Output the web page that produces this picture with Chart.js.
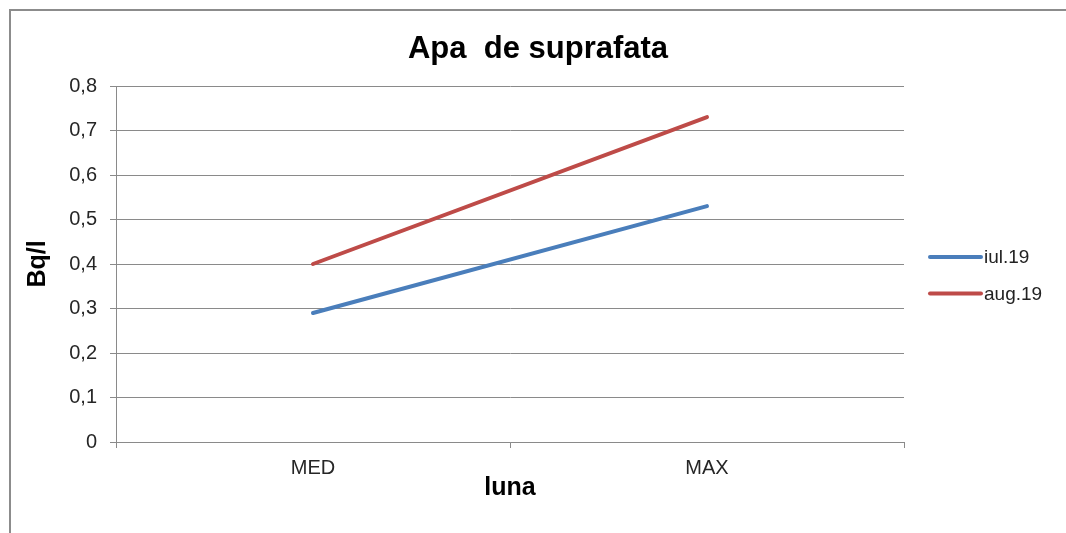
<!DOCTYPE html>
<html>
<head>
<meta charset="utf-8">
<script src="https://cdn.jsdelivr.net/npm/chart.js@4/dist/chart.umd.min.js"></script>
<style>
html,body{margin:0;padding:0;background:#fff;overflow:hidden;}
canvas{display:block;}
</style>
</head>
<body>
<canvas id="c" width="1066" height="533"></canvas>
<script>
const categories = ['MED', 'MAX'];
const seriesNames = ['iul.19', 'aug.19'];
const iul19 = [0.29, 0.53];
const aug19 = [0.40, 0.73];
const yMin = 0, yMax = 0.8, yStep = 0.1;
const chartTitle = 'Apa  de suprafata';
const xTitle = 'luna';
const yTitle = 'Bq/l';

const FONT = '"Liberation Sans", Arial, sans-serif';
const colors = ['#4A7EBB', '#BE4B48'];
const gridColor = '#8a8a8a';

const deco = {
  id: 'deco',
  beforeDraw(chart) {
    const ctx = chart.ctx;
    ctx.save();
    ctx.fillStyle = '#fff';
    ctx.fillRect(0, 0, chart.width, chart.height);
    ctx.strokeStyle = '#8c8c8c';
    ctx.lineWidth = 2;
    ctx.beginPath();
    ctx.moveTo(10, chart.height);
    ctx.lineTo(10, 10);
    ctx.lineTo(chart.width, 10);
    ctx.stroke();
    ctx.restore();
  },
  afterDraw(chart) {
    const ctx = chart.ctx;
    ctx.save();
    ctx.fillStyle = '#000';
    ctx.font = 'bold 31px ' + FONT;
    ctx.textAlign = 'center';
    ctx.textBaseline = 'alphabetic';
    ctx.fillText(chartTitle, 538, 58);
    // legend
    chart.data.datasets.forEach((ds, i) => {
      const y = 257 + i * 36.5;
      ctx.strokeStyle = ds.borderColor;
      ctx.lineWidth = 4;
      ctx.lineCap = 'round';
      ctx.beginPath();
      ctx.moveTo(930, y);
      ctx.lineTo(981, y);
      ctx.stroke();
      ctx.fillStyle = '#222';
      ctx.font = '19px ' + FONT;
      ctx.textAlign = 'left';
      ctx.textBaseline = 'middle';
      ctx.fillText(ds.label, 984, y + 1);
    });
    ctx.restore();
  }
};

new Chart(document.getElementById('c'), {
  type: 'line',
  data: {
    labels: categories,
    datasets: [
      { label: seriesNames[0], data: iul19, borderColor: colors[0], backgroundColor: colors[0], borderWidth: 4, pointRadius: 0, borderCapStyle: 'round', tension: 0 },
      { label: seriesNames[1], data: aug19, borderColor: colors[1], backgroundColor: colors[1], borderWidth: 4, pointRadius: 0, borderCapStyle: 'round', tension: 0 }
    ]
  },
  options: {
    responsive: false,
    animation: false,
    devicePixelRatio: 1,
    layout: { padding: { left: 0, right: 162, top: 86, bottom: 0 } },
    plugins: { legend: { display: false }, title: { display: false }, tooltip: { enabled: false } },
    scales: {
      x: {
        type: 'category',
        offset: true,
        afterFit(s) { s.height = 91; },
        grid: { drawOnChartArea: false, drawTicks: true, tickLength: 6, color: gridColor, offset: true },
        border: { display: true, color: gridColor, width: 1 },
        ticks: { color: '#262626', font: { family: FONT, size: 20 }, padding: 8, maxRotation: 0 },
        title: { display: true, text: xTitle, color: '#000', font: { family: FONT, size: 25, weight: 'bold' }, padding: { top: 0, bottom: 30 } }
      },
      y: {
        min: yMin, max: yMax,
        afterFit(s) { s.width = 116; },
        afterBuildTicks(s) {
          const t = [];
          for (let i = 0; i <= Math.round((yMax - yMin) / yStep); i++) t.push({ value: +(yMin + i * yStep).toFixed(1) });
          s.ticks = t;
        },
        grid: { color: gridColor, lineWidth: 1, tickLength: 6, drawTicks: true },
        border: { display: true, color: gridColor, width: 1 },
        ticks: {
          color: '#262626', font: { family: FONT, size: 20 }, padding: 13,
          callback: v => (v === 0 ? '0' : v.toFixed(1).replace('.', ','))
        },
        title: { display: true, text: yTitle, color: '#000', font: { family: FONT, size: 25, weight: 'bold' }, padding: { top: 23, bottom: 0 } }
      }
    }
  },
  plugins: [deco]
});
</script>
</body>
</html>
